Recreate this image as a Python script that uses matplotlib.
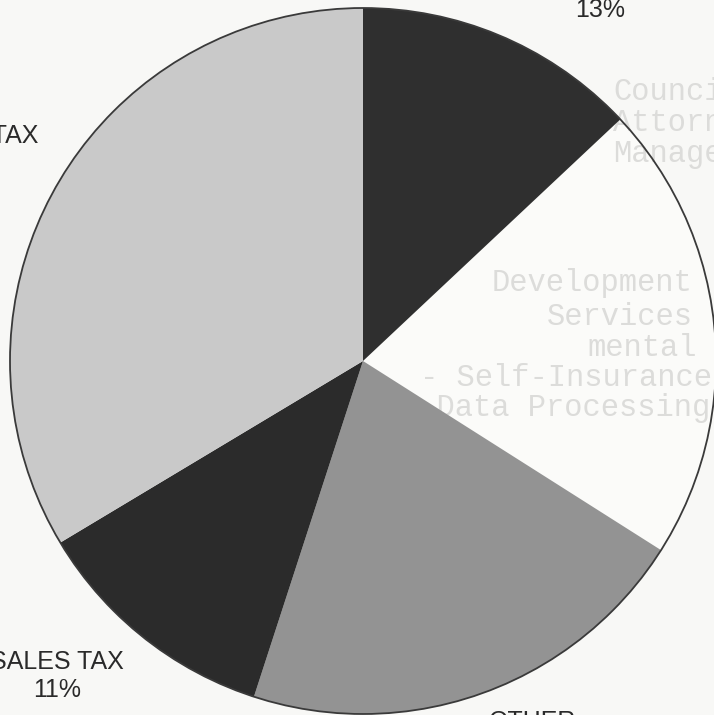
import matplotlib
matplotlib.use("Agg")
import matplotlib.pyplot as plt
from matplotlib.patches import Circle

# revenue shares, clockwise from 12 o'clock
sources = ["FEES & CHARGES", "INTERGOVERNMENTAL", "OTHER", "SALES TAX", "PROPERTY TAX"]
shares = [13.0, 21.0, 21.0, 11.4, 33.6]
colors = ["#2f2f2f", "#fbfbf9", "#939393", "#2b2b2b", "#c9c9c9"]

# label block centres in pixel coords (x, y from top)
label_pos = [(600, -4), (900, 360), (533, 736), (57, 676), (-56, 150)]

# faint typed text showing through the paper
ghost_lines = ["Council", "Attorney", "Manager", "Development", "Services",
               "mental", "- Self-Insurance", "- Data Processing"]
ghost_pos = [(613, 92), (613, 123), (613, 154), (492, 283), (547, 317),
             (587, 348), (420, 378), (400, 408)]

W, H = 714, 715
fig = plt.figure(figsize=(W / 100, H / 100), dpi=100)
fig.patch.set_facecolor("#f8f8f6")
ax = fig.add_axes([0, 0, 1, 1])

cx, cy, r = 363, H - 361, 353

wedges, _ = ax.pie(shares, colors=colors, startangle=90, counterclock=False,
                   center=(cx, cy), radius=r, frame=True,
                   wedgeprops=dict(linewidth=0))
ax.set_xlim(0, W)
ax.set_ylim(0, H)
ax.set_aspect("equal")
ax.axis("off")

# white wedge sits under the bleed-through text, the shaded ones on top
for i, w in enumerate(wedges):
    w.set_zorder(1 if colors[i] == "#fbfbf9" else 3)

for txt, (gx, gy) in zip(ghost_lines, ghost_pos):
    ax.text(gx, H - gy, txt, ha="left", va="center", fontsize=22,
            family="Liberation Mono", color="#dcdcda", zorder=2)

# outline of the whole pie
ax.add_patch(Circle((cx, cy), r, fill=False, edgecolor="#3a3a3a",
                    linewidth=1.3, zorder=4))

for name, v, (lx, ly) in zip(sources, shares, label_pos):
    ax.text(lx, H - ly, f"{name}\n{v:.0f}%", ha="center", va="center",
            fontsize=18, family="Liberation Sans", color="#2a2a2a",
            linespacing=1.25, clip_on=False, zorder=5)

fig.savefig("out.png", dpi=100, facecolor=fig.get_facecolor())
